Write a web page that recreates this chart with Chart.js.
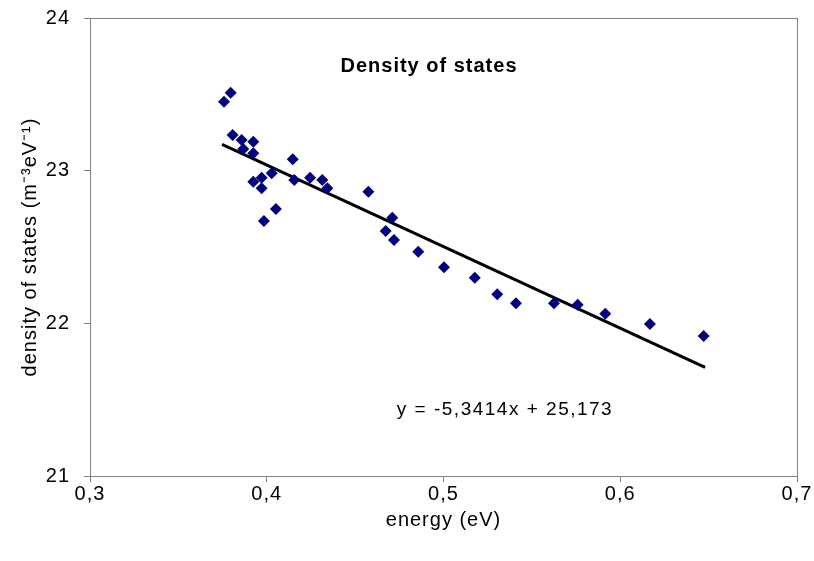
<!DOCTYPE html>
<html>
<head>
<meta charset="utf-8">
<script src="https://cdn.jsdelivr.net/npm/chart.js@4/dist/chart.umd.min.js"></script>
<style>
  html, body { margin: 0; padding: 0; background: #fff; }
  #wrap { width: 814px; height: 561px; }
</style>
</head>
<body>
<div id="wrap"><canvas id="dos"></canvas></div>
<script>
// energy (eV) and density of states
const energy = [0.3758, 0.3796, 0.3807, 0.3858, 0.3924, 0.3867, 0.3924, 0.4147,
                0.4028, 0.3971, 0.3924, 0.3971, 0.4156, 0.4245, 0.4314, 0.4343,
                0.4052, 0.3984, 0.4575, 0.4710, 0.4673, 0.4720, 0.4857, 0.5003,
                0.5177, 0.5304, 0.5410, 0.5625, 0.5759, 0.5915, 0.6168, 0.6472]
const dos = [23.452, 23.511, 23.234, 23.201, 23.190, 23.142, 23.114, 23.074,
             22.983, 22.954, 22.928, 22.885, 22.939, 22.954, 22.939, 22.885,
             22.749, 22.670, 22.862, 22.692, 22.605, 22.546, 22.469, 22.367,
             22.299, 22.190, 22.131, 22.131, 22.122, 22.063, 21.996, 21.917]

// trendline as printed on the chart
const slope = -5.3414
const intercept = 25.173
const trendX = [0.3747, 0.648]

const xTicks = [0.3, 0.4, 0.5, 0.6, 0.7]
const yTicks = [21, 22, 23, 24]

const fontFam = "'Liberation Sans', Arial, sans-serif"

let points = energy.map((e, i) => ({x: e, y: dos[i]}))
let trend = trendX.map(x => ({x: x, y: slope * x + intercept}))

// frame round the plot and the two texts inside it
const extras = {
    id: 'extras',
    beforeDraw(chart) {
        // the original text is a bit wider than Liberation Sans
        chart.ctx.letterSpacing = '1px'
    },
    beforeDatasetsDraw(chart) {
        let ctx = chart.ctx
        let a = chart.chartArea
        ctx.save()
        ctx.strokeStyle = '#808080'
        ctx.lineWidth = 1
        ctx.strokeRect(a.left + 0.5, a.top + 0.5, a.right - a.left, a.bottom - a.top)
        ctx.restore()
    },
    afterDraw(chart) {
        let ctx = chart.ctx
        ctx.save()
        ctx.fillStyle = '#000'
        ctx.textAlign = 'center'
        ctx.textBaseline = 'middle'
        ctx.font = "bold 20px " + fontFam
        ctx.fillText('Density of states', 429, 66)
        ctx.font = "19px " + fontFam
        ctx.letterSpacing = '1.5px'
        ctx.fillText('y = -5,3414x + 25,173', 505, 410)
        ctx.restore()
    }
}

let chart = document.querySelector("#dos")
new Chart(chart, {
    type: 'scatter',
    data: {
        datasets: [{
            label: 'data',
            data: points,
            pointStyle: 'rectRot',
            pointRadius: 6,
            pointBackgroundColor: '#000080',
            pointBorderColor: '#000080',
            pointBorderWidth: 0,
            order: 1
        }, {
            label: 'trend',
            type: 'line',
            data: trend,
            borderColor: '#000',
            borderWidth: 3,
            pointRadius: 0,
            fill: false,
            order: 2
        }]
    },
    options: {
        responsive: true,
        maintainAspectRatio: false,
        animation: false,
        layout: { padding: { top: 18, right: 17, left: 0, bottom: 0 } },
        plugins: {
            legend: { display: false },
            tooltip: { enabled: false }
        },
        scales: {
            x: {
                type: 'linear',
                min: 0.3,
                max: 0.7,
                afterBuildTicks: s => { s.ticks = xTicks.map(v => ({value: v})) },
                afterFit: s => {
                    s.height = 85
                    s.paddingLeft = 0
                    s.paddingRight = 0
                },
                ticks: {
                    color: '#000',
                    font: { family: fontFam, size: 20 },
                    padding: 0,
                    callback: v => v.toFixed(1).replace('.', ',')
                },
                grid: { drawOnChartArea: false, tickLength: 6, color: '#808080' },
                border: { color: '#808080' },
                title: {
                    display: true,
                    text: 'energy (eV)',
                    color: '#000',
                    font: { family: fontFam, size: 20 },
                    padding: { top: 10, bottom: 29 }
                }
            },
            y: {
                type: 'linear',
                min: 21,
                max: 24,
                afterBuildTicks: s => { s.ticks = yTicks.map(v => ({value: v})) },
                afterFit: s => {
                    s.width = 90
                    s.paddingTop = 0
                    s.paddingBottom = 0
                },
                ticks: {
                    color: '#000',
                    font: { family: fontFam, size: 20 },
                    padding: 14
                },
                grid: { drawOnChartArea: false, tickLength: 6, color: '#808080' },
                border: { color: '#000' },
                title: {
                    display: true,
                    text: 'density of states (m⁻³eV⁻¹)',
                    color: '#000',
                    font: { family: fontFam, size: 20 },
                    padding: { top: 18, bottom: 0 }
                }
            }
        }
    },
    plugins: [extras]
})
</script>
</body>
</html>
